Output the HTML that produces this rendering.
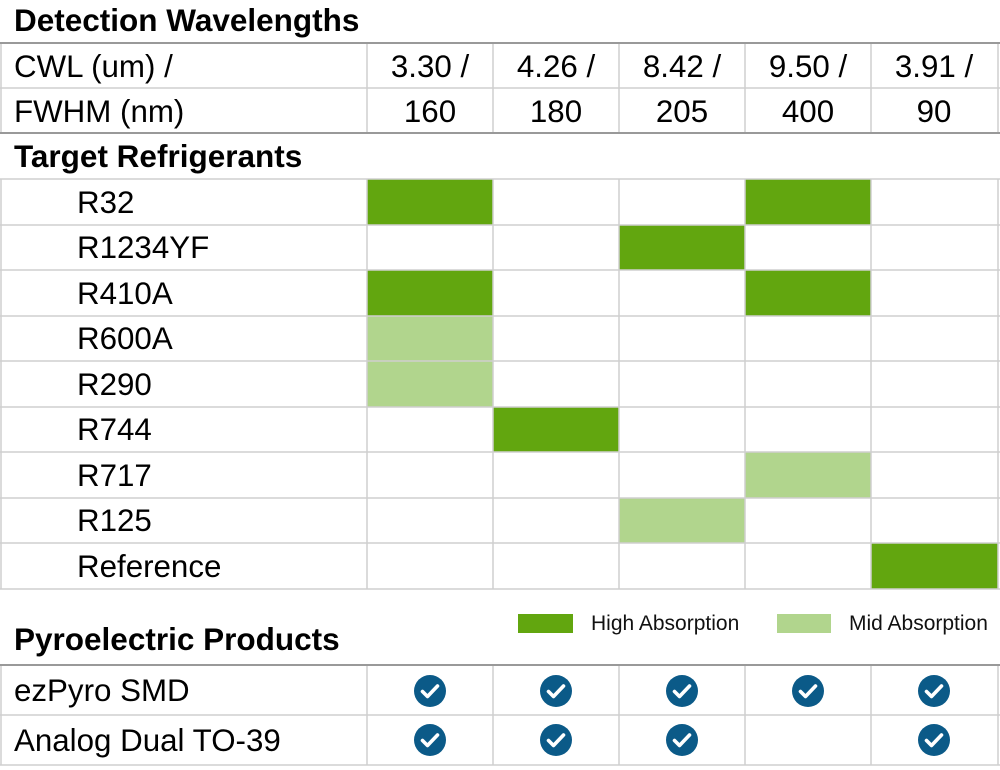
<!DOCTYPE html>
<html><head><meta charset="utf-8"><style>
html,body{margin:0;padding:0;background:#fff;}
svg{display:block;font-family:"Liberation Sans",Arial,sans-serif;}
</style></head><body>
<svg width="1000" height="770" viewBox="0 0 1000 770" xmlns="http://www.w3.org/2000/svg">
<defs>
<g id="ck"><circle r="16" fill="#0b5a88"/><path d="M-7.5,0.5 L-2.5,5.5 L7.5,-5" fill="none" stroke="#fff" stroke-width="3.6" stroke-linecap="round" stroke-linejoin="round"/></g>
</defs>
<g font-weight="bold" font-size="31.5" fill="#000">
<text x="14" y="31">Detection Wavelengths</text>
<text x="14" y="167">Target Refrigerants</text>
<text x="14" y="650">Pyroelectric Products</text>
</g>
<g fill="#62a60f">
<rect x="367" y="179" width="126" height="46"/><rect x="745" y="179" width="126" height="46"/>
<rect x="619" y="225" width="126" height="45"/>
<rect x="367" y="270" width="126" height="46"/><rect x="745" y="270" width="126" height="46"/>
<rect x="493" y="407" width="126" height="45"/>
<rect x="871" y="543" width="127" height="46"/>
<rect x="518" y="614" width="55" height="19"/>
</g>
<g fill="#b1d58d">
<rect x="367" y="316" width="126" height="91"/>
<rect x="745" y="452" width="126" height="46"/>
<rect x="619" y="498" width="126" height="45"/>
<rect x="777" y="614" width="54" height="19"/>
</g>
<g stroke="#cfcfcf" stroke-width="1.5" fill="none">
<line x1="0" y1="88" x2="1000" y2="88"/>
<line x1="0" y1="179" x2="1000" y2="179"/>
<line x1="0" y1="225" x2="1000" y2="225"/>
<line x1="0" y1="270" x2="1000" y2="270"/>
<line x1="0" y1="316" x2="1000" y2="316"/>
<line x1="0" y1="361" x2="1000" y2="361"/>
<line x1="0" y1="407" x2="1000" y2="407"/>
<line x1="0" y1="452" x2="1000" y2="452"/>
<line x1="0" y1="498" x2="1000" y2="498"/>
<line x1="0" y1="543" x2="1000" y2="543"/>
<line x1="0" y1="589" x2="1000" y2="589"/>
<line x1="0" y1="715" x2="1000" y2="715"/>
<line x1="0" y1="765" x2="1000" y2="765"/>
<line x1="1" y1="43" x2="1" y2="133"/><line x1="1" y1="179" x2="1" y2="589"/><line x1="1" y1="665" x2="1" y2="765"/>
<line x1="367" y1="43" x2="367" y2="133"/><line x1="367" y1="179" x2="367" y2="589"/><line x1="367" y1="665" x2="367" y2="765"/>
<line x1="493" y1="43" x2="493" y2="133"/><line x1="493" y1="179" x2="493" y2="589"/><line x1="493" y1="665" x2="493" y2="765"/>
<line x1="619" y1="43" x2="619" y2="133"/><line x1="619" y1="179" x2="619" y2="589"/><line x1="619" y1="665" x2="619" y2="765"/>
<line x1="745" y1="43" x2="745" y2="133"/><line x1="745" y1="179" x2="745" y2="589"/><line x1="745" y1="665" x2="745" y2="765"/>
<line x1="871" y1="43" x2="871" y2="133"/><line x1="871" y1="179" x2="871" y2="589"/><line x1="871" y1="665" x2="871" y2="765"/>
<line x1="998" y1="43" x2="998" y2="133"/><line x1="998" y1="179" x2="998" y2="589"/><line x1="998" y1="665" x2="998" y2="765"/>
</g>
<g stroke="#999" stroke-width="2">
<line x1="0" y1="43" x2="1000" y2="43"/>
<line x1="0" y1="133" x2="1000" y2="133"/>
<line x1="0" y1="665" x2="1000" y2="665"/>
</g>
<g font-size="31.3" fill="#000">
<text x="14" y="77">CWL (um) /</text>
<text x="14" y="122">FWHM (nm)</text>
<g text-anchor="middle">
<text x="430" y="77">3.30 /</text><text x="556" y="77">4.26 /</text><text x="682" y="77">8.42 /</text><text x="808" y="77">9.50 /</text><text x="934" y="77">3.91 /</text>
<text x="430" y="122">160</text><text x="556" y="122">180</text><text x="682" y="122">205</text><text x="808" y="122">400</text><text x="934" y="122">90</text>
</g>
<text x="77" y="213">R32</text>
<text x="77" y="258">R1234YF</text>
<text x="77" y="304">R410A</text>
<text x="77" y="349">R600A</text>
<text x="77" y="395">R290</text>
<text x="77" y="440">R744</text>
<text x="77" y="486">R717</text>
<text x="77" y="531">R125</text>
<text x="77" y="577">Reference</text>
<text x="14" y="701">ezPyro SMD</text>
<text x="14" y="751">Analog Dual TO-39</text>
</g>
<g font-size="21" fill="#111">
<text x="591" y="630">High Absorption</text>
<text x="849" y="630">Mid Absorption</text>
</g>
<use href="#ck" x="430" y="691"/><use href="#ck" x="556" y="691"/><use href="#ck" x="682" y="691"/><use href="#ck" x="808" y="691"/><use href="#ck" x="934" y="691"/>
<use href="#ck" x="430" y="740"/><use href="#ck" x="556" y="740"/><use href="#ck" x="682" y="740"/><use href="#ck" x="934" y="740"/>
</svg>
</body></html>
